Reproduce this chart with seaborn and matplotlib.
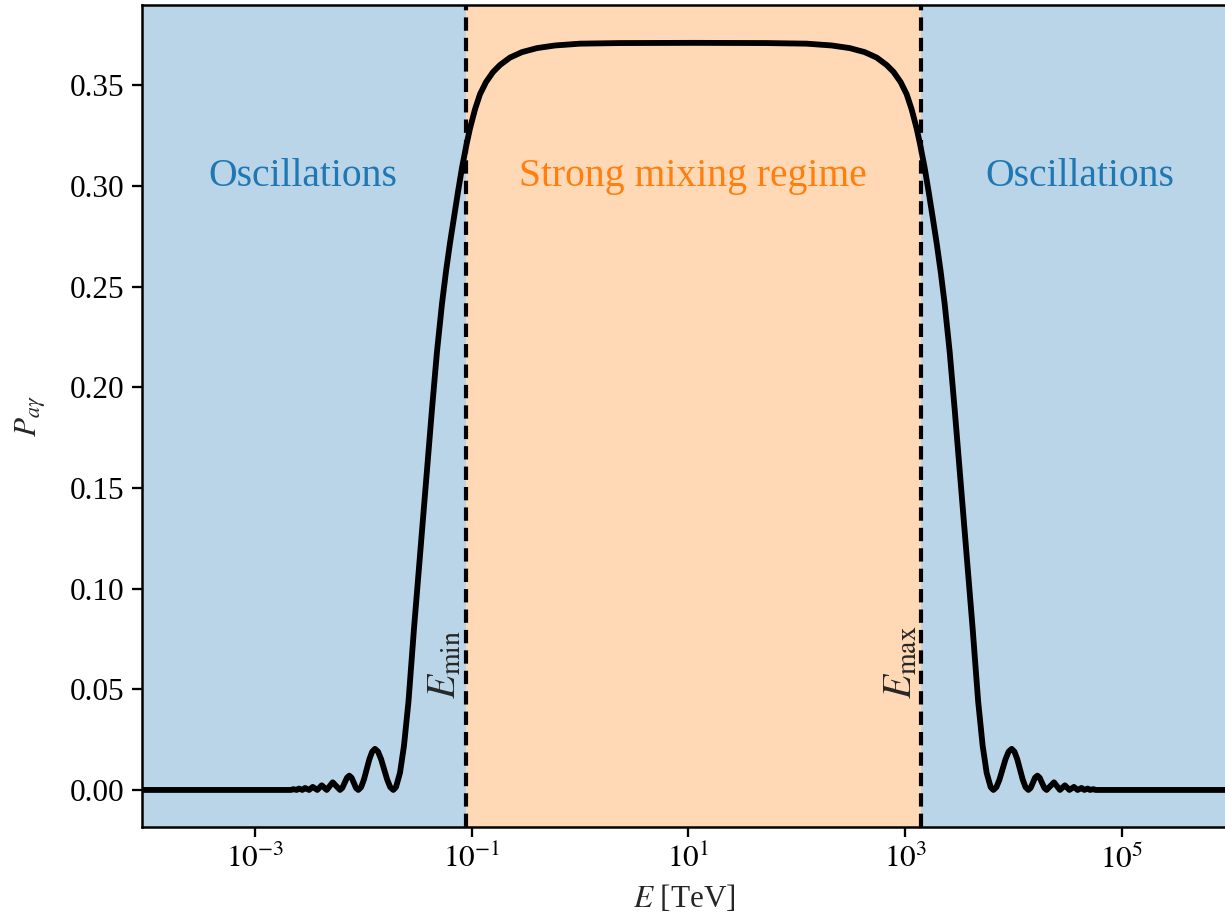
import numpy as np
import pandas as pd
import matplotlib
matplotlib.use("Agg")
import matplotlib.pyplot as plt
import seaborn as sns

# ---- data (log10 of E in TeV, conversion probability) ----
log_E_left = [-4.05, -3.2, -2.767, -2.6655, -2.644, -2.613, -2.592, -2.561, -2.536,
              -2.499, -2.465, -2.423, -2.382, -2.336, -2.308, -2.281, -2.247, -2.213,
              -2.1922, -2.1706, -2.1489, -2.128, -2.1064, -2.086, -2.0658, -2.045,
              -2.0188, -1.993, -1.9676, -1.9422, -1.9164, -1.891, -1.8624, -1.8343,
              -1.8062, -1.778, -1.7499, -1.722, -1.697, -1.660, -1.623, -1.5815,
              -1.531, -1.475, -1.420, -1.365, -1.319, -1.2725, -1.2356, -1.199,
              -1.1618, -1.125, -1.088, -1.0465, -1.0142, -0.968, -0.922, -0.8666,
              -0.802, -0.7374, -0.6452, -0.5345, -0.3961, -0.2301, 0.0006, 0.3696, 1.046]
P_left = [0.0, 0.0, 0.0, 0.0, 0.0004, 0.0, 0.0007, 0.0, 0.0010,
          0.0, 0.0015, 0.0, 0.0023, 0.0, 0.0019, 0.0038, 0.0019, 0.0,
          0.001, 0.0036, 0.0061, 0.0071, 0.0061, 0.0036, 0.001, 0.0,
          0.00137, 0.0051, 0.0102, 0.0153, 0.019, 0.0204, 0.019, 0.0153,
          0.0102, 0.0051, 0.00137, 0.0, 0.0014, 0.0085, 0.022, 0.044,
          0.080, 0.117, 0.153, 0.189, 0.2175, 0.2415, 0.2575, 0.2715,
          0.2845, 0.297, 0.309, 0.3205, 0.3285, 0.338, 0.3455, 0.3515,
          0.3565, 0.360, 0.3637, 0.3664, 0.3684, 0.3697, 0.3706, 0.3709, 0.371]

log_E_right = [1.7224, 2.0914, 2.3221, 2.4881, 2.6265, 2.7372, 2.8294, 2.894, 2.9586,
               3.014, 3.060, 3.1062, 3.1385, 3.180, 3.217, 3.2538, 3.291, 3.3276,
               3.3645, 3.411, 3.457, 3.512, 3.567, 3.623, 3.6735, 3.715, 3.752,
               3.789, 3.814, 3.8419, 3.870, 3.8982, 3.9263, 3.9544, 3.983, 4.0084,
               4.0342, 4.0596, 4.085, 4.1108, 4.137, 4.1578, 4.178, 4.1984, 4.220,
               4.2409, 4.2626, 4.2842, 4.305, 4.339, 4.373, 4.400, 4.428, 4.474,
               4.515, 4.557, 4.591, 4.628, 4.653, 4.684, 4.705, 4.736, 4.7575,
               4.859, 5.292, 6.05]
P_right = [0.3709, 0.3706, 0.3697, 0.3684, 0.3664, 0.3637, 0.360, 0.3565, 0.3515,
           0.3455, 0.338, 0.3285, 0.3205, 0.309, 0.297, 0.2845, 0.2715, 0.2575,
           0.2415, 0.2175, 0.189, 0.153, 0.117, 0.080, 0.044, 0.022, 0.0085,
           0.0014, 0.0, 0.00137, 0.0051, 0.0102, 0.0153, 0.019, 0.0204, 0.019,
           0.0153, 0.0102, 0.0051, 0.00137, 0.0, 0.001, 0.0036, 0.0061, 0.0071,
           0.0061, 0.0036, 0.001, 0.0, 0.0019, 0.0038, 0.0019, 0.0, 0.0023,
           0.0, 0.0015, 0.0, 0.0010, 0.0, 0.0007, 0.0, 0.0004, 0.0,
           0.0, 0.0, 0.0]

E_min = 0.089     # TeV
E_max = 1400.0    # TeV
x_ticks = [1e-3, 1e-1, 1e1, 1e3, 1e5]
x_tick_labels = [r"$10^{-3}$", r"$10^{-1}$", r"$10^{1}$", r"$10^{3}$", r"$10^{5}$"]
y_ticks = [0.00, 0.05, 0.10, 0.15, 0.20, 0.25, 0.30, 0.35]
region_labels = ["Oscillations", "Strong mixing regime", "Oscillations"]
region_label_E = [2.8e-3, 11.0, 4.1e4]
region_label_P = 0.3045

df = pd.DataFrame({
    "E": 10.0 ** np.array(log_E_left + log_E_right),
    "P": P_left + P_right,
})

sns.set_theme(style="ticks")
plt.rcParams["font.family"] = ["Liberation Serif", "DejaVu Serif"]
plt.rcParams["mathtext.fontset"] = "stix"
plt.rcParams["axes.edgecolor"] = "black"
plt.rcParams["axes.linewidth"] = 1.2
plt.rcParams["xtick.color"] = "black"
plt.rcParams["ytick.color"] = "black"

fig = plt.figure(figsize=(1225 / 150, 920 / 150), dpi=150)
ax = fig.add_axes([142 / 1225, 93 / 920, 1084 / 1225, 822 / 920])

ax.axvspan(1e-6, E_min, color="tab:blue", alpha=0.3, lw=0)
ax.axvspan(E_min, E_max, color="tab:orange", alpha=0.3, lw=0)
ax.axvspan(E_max, 1e8, color="tab:blue", alpha=0.3, lw=0)

sns.lineplot(data=df, x="E", y="P", color="black", lw=2.8, ax=ax, sort=False)

for e in (E_min, E_max):
    ax.axvline(e, color="black", ls=(0, (3.2, 1.7)), lw=2.0)

ax.set_xscale("log")
ax.set_xlim(10 ** -4.04, 10 ** 5.96)
ax.set_ylim(-0.0184, 0.3898)
ax.set_xticks(x_ticks)
ax.set_xticklabels(x_tick_labels)
ax.xaxis.set_minor_locator(matplotlib.ticker.NullLocator())
ax.set_yticks(y_ticks)
ax.set_yticklabels([f"{v:.2f}" for v in y_ticks])
ax.tick_params(axis="both", labelsize=15, length=5, width=1.1, direction="out")

ax.set_xlabel(r"$E$ [TeV]", fontsize=15, labelpad=4)
ax.set_ylabel(r"$P_{a\gamma}$", fontsize=15, labelpad=10)

colors = ["tab:blue", "tab:orange", "tab:blue"]
for lab, xe, c in zip(region_labels, region_label_E, colors):
    ax.text(xe, region_label_P, lab, color=c, fontsize=19, ha="center", va="center")

ax.text(E_min * 0.97, 0.045, r"$E_{\rm min}$", rotation=90, ha="right", va="bottom", fontsize=19)
ax.text(E_max, 0.045, r"$E_{\rm max}$", rotation=90, ha="right", va="bottom", fontsize=19)

for s in ax.spines.values():
    s.set_visible(True)
    s.set_color("black")

fig.savefig("out.png", dpi=150)
